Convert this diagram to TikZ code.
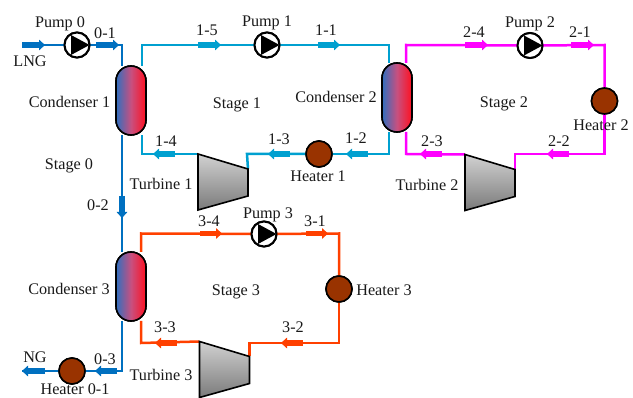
\documentclass[tikz,border=0pt]{standalone}
\usepackage{fontspec}
\setmainfont{Liberation Serif}
\usetikzlibrary{arrows.meta,calc}
\definecolor{cz}{HTML}{0070C0}
\definecolor{ca}{HTML}{00A0D0}
\definecolor{cb}{HTML}{FF00FF}
\definecolor{cc}{HTML}{FF4000}
\definecolor{heatfill}{HTML}{993300}
\definecolor{condl}{HTML}{2F6FBF}
\definecolor{condm}{HTML}{C8507F}
\definecolor{condr}{HTML}{FF1020}
\tikzset{
 x=1pt,y=-1pt,
 pipe/.style={line width=2.5pt,line join=miter},
 flowarrow/.style={line width=5.5pt,-{Triangle[length=6pt,width=10.5pt]}},
 pumpnode/.style={circle,draw=black,fill=white,line width=2pt,minimum size=25pt,inner sep=0pt,outer sep=0pt},
 heaternode/.style={circle,draw=black,fill=heatfill,line width=1.6pt,minimum size=26pt,inner sep=0pt,outer sep=0pt},
 condnode/.style={draw=black,line width=1.6pt,rounded corners=15pt,minimum width=30pt,minimum height=69pt,inner sep=0pt,outer sep=0pt,left color=condl,right color=condr,middle color=condm},
 turbbox/.style={minimum width=50pt,minimum height=56pt,inner sep=0pt,outer sep=0pt},
 turbshape/.style={draw=black,line width=1.6pt,line join=miter,top color=black!18,bottom color=black!52},
 lab/.style={font=\fontsize{16.2}{17}\selectfont,text=black!90,inner sep=0pt,text height=11pt,text depth=0pt},
}
\newcommand{\pumpmark}[1]{\fill[black] ($(#1)+(-6,-10)$) -- ($(#1)+(12.5,0)$) -- ($(#1)+(-6,10)$) -- cycle;}
\newcommand{\turbmark}[1]{\path[turbshape] (#1.north west) -- ($(#1.east)+(0,-13)$) -- ($(#1.east)+(0,14)$) -- (#1.south west) -- cycle;}
\begin{document}
\begin{tikzpicture}
\useasboundingbox (0,0) rectangle (633,398);
% equipment anchors
\coordinate (lngin) at (22,45);
\node[pumpnode] (p0) at (77,45) {};
\node[condnode] (c1) at (131,100.5) {};
\node[condnode] (c2) at (397,97.5) {};
\node[condnode] (c3) at (131,286.5) {};
\node[pumpnode] (p1) at (267,45) {};
\node[pumpnode] (p2) at (530,45.5) {};
\node[pumpnode] (p3) at (264,234) {};
\node[heaternode] (h1) at (319,154) {};
\node[heaternode] (h2) at (604.5,101) {};
\node[heaternode] (h3) at (339,289) {};
\node[heaternode] (h0) at (72,371) {};
\node[turbbox] (t1) at (223,182) {};
\node[turbbox] (t2) at (490,182.5) {};
\node[turbbox] (t3) at (224.5,369.5) {};
\coordinate (ngout) at (22,371);
% stage 0
\draw[pipe,cz] (lngin) -- (p0);
\draw[pipe,cz] (p0) -- (122,45) -- (122,66);
\draw[pipe,cz] (122,135) -- (122,252);
\draw[pipe,cz] (122,321) -- (122,371) -- (h0);
\draw[pipe,cz] (h0) -- (ngout);
% stage 1
\draw[pipe,ca] (142,66) -- (142,45) -- (p1);
\draw[pipe,ca] (p1) -- (389,45) -- (389,63);
\draw[pipe,ca] (389,132) -- (389,154) -- (h1);
\draw[pipe,ca] (h1) -- (247,154) -- ($(t1.east)+(0,-13)$);
\draw[pipe,ca] (t1.north west) -- (142,154) -- (142,135);
% stage 2
\draw[pipe,cb] (406,63) -- (406,45) -- (p2);
\draw[pipe,cb] (p2) -- (604.5,45) -- (h2);
\draw[pipe,cb] (h2) -- (604.5,154) -- (515,154) -- ($(t2.east)+(0,-13)$);
\draw[pipe,cb] (t2.north west) -- (406,154) -- (406,132);
% stage 3
\draw[pipe,cc] (141,252) -- (141,233.5) -- (p3);
\draw[pipe,cc] (p3) -- (339,233.5) -- (h3);
\draw[pipe,cc] (h3) -- (339,343) -- (249.5,343) -- ($(t3.east)+(0,-13)$);
\draw[pipe,cc] (t3.north west) -- (141,343) -- (141,321);
% equipment on top
\node[pumpnode] at (p0) {}; \pumpmark{p0}
\node[pumpnode] at (p1) {}; \pumpmark{p1}
\node[pumpnode] at (p2) {}; \pumpmark{p2}
\node[pumpnode] at (p3) {}; \pumpmark{p3}
\node[condnode] at (c1) {};
\node[condnode] at (c2) {};
\node[condnode] at (c3) {};
\node[heaternode] at (h1) {};
\node[heaternode] at (h2) {};
\node[heaternode] at (h3) {};
\node[heaternode] at (h0) {};
\turbmark{t1}\turbmark{t2}\turbmark{t3}
% flow arrows
\draw[flowarrow,cz] (22,45) -- (45,45);
\draw[flowarrow,cz] (96,45) -- (119,45);
\draw[flowarrow,cz] (122,196) -- (122,218);
\draw[flowarrow,cz] (117,371) -- (95,371);
\draw[flowarrow,cz] (45,371) -- (22,371);
\draw[flowarrow,ca] (198,45) -- (221,45);
\draw[flowarrow,ca] (318,45) -- (340,45);
\draw[flowarrow,ca] (368,154) -- (346,154);
\draw[flowarrow,ca] (290,154) -- (268,154);
\draw[flowarrow,ca] (175,154) -- (153,154);
\draw[flowarrow,cb] (465,45) -- (488,45);
\draw[flowarrow,cb] (571,45) -- (594,45);
\draw[flowarrow,cb] (569,154) -- (547,154);
\draw[flowarrow,cb] (442,154) -- (420,154);
\draw[flowarrow,cc] (200,233.5) -- (222,233.5);
\draw[flowarrow,cc] (306,233.5) -- (328,233.5);
\draw[flowarrow,cc] (303,343) -- (281,343);
\draw[flowarrow,cc] (177,343) -- (155,343);
% labels
\node[lab] (l1) at (60,22) {Pump 0};
\node[lab] (l2) at (105,33) {0-1};
\node[lab] (l3) at (30,61) {LNG};
\node[lab] (l4) at (69.5,102) {Condenser 1};
\node[lab] (l5) at (237,103) {Stage 1};
\node[lab] (l6) at (69,164) {Stage 0};
\node[lab] (l7) at (161,184) {Turbine 1};
\node[lab] (l8) at (207,30) {1-5};
\node[lab] (l9) at (267,21) {Pump 1};
\node[lab] (l10) at (326,30) {1-1};
\node[lab] (l11) at (336,97) {Condenser 2};
\node[lab] (l12) at (504,102) {Stage 2};
\node[lab] (l13) at (530,22) {Pump 2};
\node[lab] (l14) at (474,32) {2-4};
\node[lab] (l15) at (580,32) {2-1};
\node[lab] (l16) at (601,125) {Heater 2};
\node[lab] (l17) at (432,141) {2-3};
\node[lab] (l18) at (559,141) {2-2};
\node[lab] (l19) at (427,185) {Turbine 2};
\node[lab] (l20) at (356,138) {1-2};
\node[lab] (l21) at (279,139) {1-3};
\node[lab] (l22) at (166,141) {1-4};
\node[lab] (l23) at (318,176) {Heater 1};
\node[lab] (l24) at (98,205) {0-2};
\node[lab] (l25) at (209,221) {3-4};
\node[lab] (l26) at (268,213) {Pump 3};
\node[lab] (l27) at (315,221) {3-1};
\node[lab] (l28) at (69,289) {Condenser 3};
\node[lab] (l29) at (236,290) {Stage 3};
\node[lab] (l30) at (384,290) {Heater 3};
\node[lab] (l31) at (165,327) {3-3};
\node[lab] (l32) at (293,327) {3-2};
\node[lab] (l33) at (161,375) {Turbine 3};
\node[lab] (l34) at (35,357) {NG};
\node[lab] (l35) at (105,359) {0-3};
\node[lab] (l36) at (75,389.5) {Heater 0-1};
\end{tikzpicture}
\end{document}
